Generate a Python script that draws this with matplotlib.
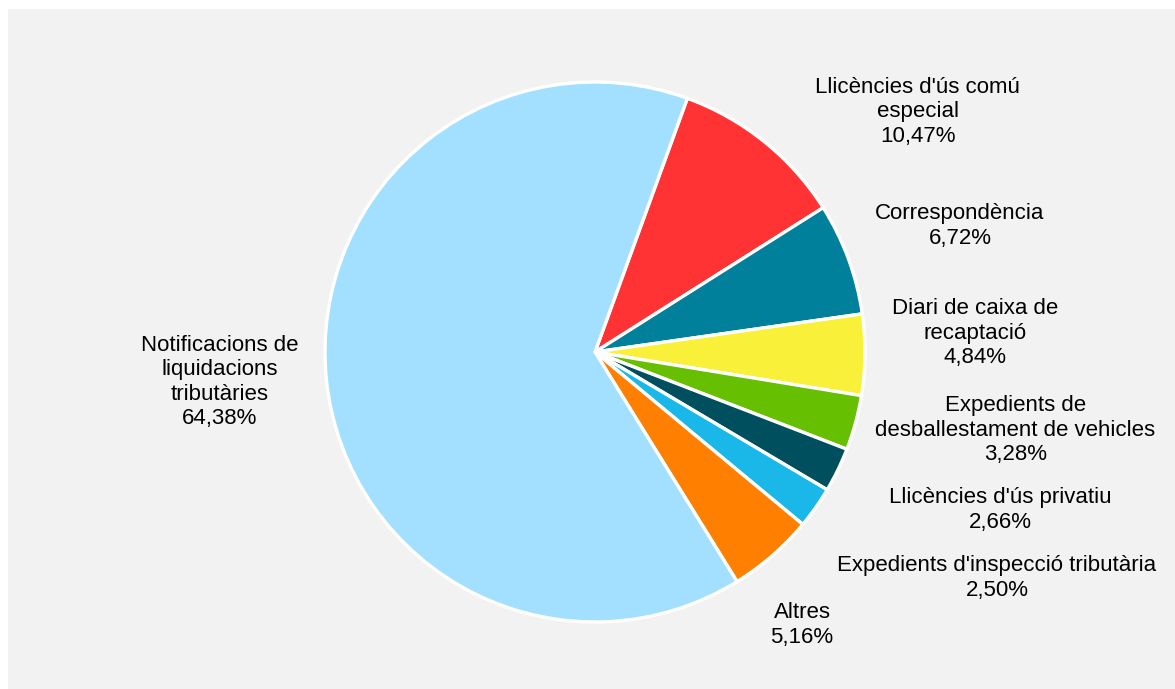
import matplotlib
matplotlib.use("Agg")
import matplotlib.pyplot as plt
from matplotlib.patches import Rectangle

categories = [
    "Llicències d'ús comú\nespecial",
    "Correspondència",
    "Diari de caixa de\nrecaptació",
    "Expedients de\ndesballestament de vehicles",
    "Llicències d'ús privatiu",
    "Expedients d'inspecció tributària",
    "Altres",
    "Notificacions de\nliquidacions\ntributàries",
]
values = [10.47, 6.72, 4.84, 3.28, 2.66, 2.50, 5.16, 64.38]
colors = ["#ff3333", "#00809a", "#f9f03a", "#66bf00", "#004f5e", "#1ab8e8", "#ff7f00", "#a3e0ff"]
# label offsets from centre, in units of radius
label_offsets = [(1.196, 0.889), (1.352, 0.467), (1.407, 0.070), (1.556, -0.289),
                 (1.5, -0.585), (1.489, -0.837), (0.767, -1.011), (-1.389, -0.111)]

W, H = 1175, 689
fig = plt.figure(figsize=(W / 100, H / 100), dpi=100)
fig.patch.set_facecolor("white")
ax = fig.add_axes([0, 0, 1, 1])
ax.add_patch(Rectangle((8, 0), W - 8, H - 9, facecolor="#f2f2f2", edgecolor="none", zorder=0))

cx, cy, R = 595, H - 352, 270
ax.pie(values, colors=colors, startangle=70, counterclock=False, center=(cx, cy), radius=R,
       wedgeprops=dict(edgecolor="white", linewidth=2.4), frame=True)
ax.set_xlim(0, W)
ax.set_ylim(0, H)
ax.set_aspect("equal")
ax.axis("off")

for cat, v, (ox, oy) in zip(categories, values, label_offsets):
    txt = f"{cat}\n{v:.2f}".replace(".", ",") + "%"
    ax.text(cx + ox * R, cy + oy * R, txt, ha="center", va="center", fontsize=16,
            family="Liberation Sans", color="black", linespacing=1.22, zorder=5)

fig.savefig("out.png", dpi=100, facecolor=fig.get_facecolor())
